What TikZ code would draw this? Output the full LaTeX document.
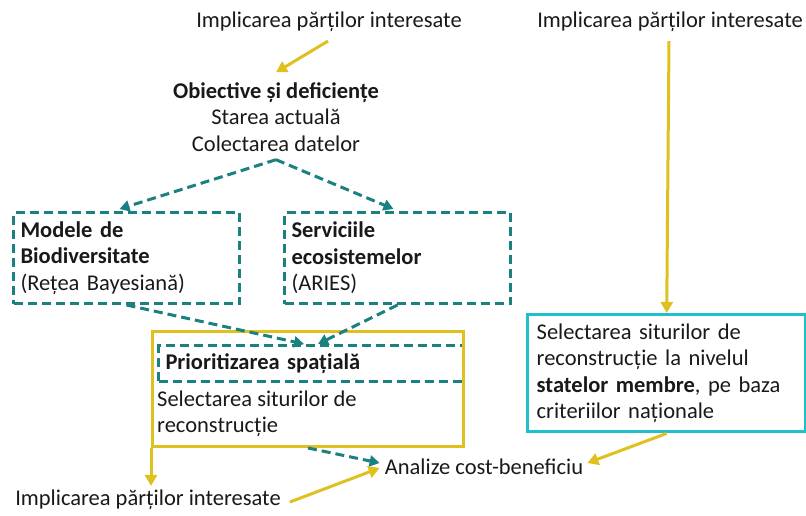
\documentclass[tikz,border=0pt]{standalone}
\usepackage{fontspec}
\setmainfont{Carlito}
\definecolor{rteal}{RGB}{26,128,128}
\definecolor{ryellow}{RGB}{224,192,30}
\definecolor{rcyan}{RGB}{30,192,204}
\definecolor{rtext}{RGB}{25,25,25}
\usetikzlibrary{arrows.meta,positioning}

\begin{document}
\begin{tikzpicture}[x=1pt,y=-1pt,
  txt/.style={font=\fontsize{22.5}{26.5}\selectfont,text=rtext,inner sep=1pt},
  dbox/.style={txt,draw=rteal,line width=3pt,dash pattern=on 9pt off 5pt,anchor=north west,align=left,inner xsep=7pt,inner ysep=0pt},
  ybox/.style={draw=ryellow,line width=3pt,anchor=north west,inner sep=0pt},
  cbox/.style={txt,draw=rcyan,line width=3.4pt,anchor=north west,align=left,inner xsep=9pt,inner ysep=0pt},
  tarr/.style={draw=rteal,line width=3pt,dash pattern=on 9pt off 5pt,-{Triangle[length=10pt,width=11pt]}},
  yarr/.style={draw=ryellow,line width=3pt,-{Triangle[length=11pt,width=12pt]}}]
  \useasboundingbox (0,0) rectangle (806,515);
  \node[txt] (imp1) at (329,22) {Implicarea părților interesate};
  \node[txt] (imp2) at (670,22) {Implicarea părților interesate};
  \node[txt,align=center] (obj) at (276,117) {\textbf{Obiective și deficiențe}\\Starea actuală\\Colectarea datelor};
  \node[dbox,text width=212pt,minimum height=91pt] (mod) at (12,211) {\textbf{Modele de}\\\textbf{Biodiversitate}\\(Rețea Bayesiană)};
  \node[dbox,text width=212pt,minimum height=91pt] (serv) at (283,211) {\textbf{Serviciile}\\\textbf{ecosistemelor}\\(ARIES)};
  \node[dbox,text width=291pt,minimum height=36pt] (prio) at (157,344) {\textbf{Prioritizarea spațială}};
  \node[ybox,minimum width=311pt,minimum height=115pt] (spat) at (151,330) {};
  \node[txt,anchor=west,align=left,inner sep=0pt] (sel) at (157,413.5) {Selectarea siturilor de\\reconstrucție};
  \node[cbox,text width=260pt,minimum height=117pt] (nat) at (526,313) {Selectarea siturilor de\\reconstrucție la nivelul\\\textbf{statelor membre}, pe baza\\criteriilor naționale};
  \node[txt] (cost) at (484,467) {Analize cost-beneficiu};
  \node[txt] (imp3) at (148,500) {Implicarea părților interesate};
  \draw[yarr] ([xshift=-1pt,yshift=-8pt]imp1.south) -- ([yshift=9pt]obj.north);
  \draw[tarr] ([yshift=-7pt]obj.south) -- ([xshift=-7pt,yshift=2pt]mod.north);
  \draw[tarr] ([yshift=-7pt]obj.south) -- ([xshift=-4pt,yshift=2pt]serv.north);
  \draw[tarr] (mod.south) -- ([xshift=-7pt]prio.north);
  \draw[tarr] (serv.south) -- ([xshift=7pt]prio.north);
  \draw[yarr] (spat.south west) -- ([yshift=3pt]spat.south west |- imp3.north);
  \draw[tarr] (spat.south) -- ([xshift=-4pt,yshift=4pt]cost.west);
  \draw[yarr] ([xshift=8pt,yshift=-2pt]imp3.east) -- ([xshift=-4pt,yshift=-1pt]cost.west);
  \draw[yarr] ([xshift=-1pt,yshift=-8pt]imp2.south) -- (nat.north);
  \draw[yarr] (nat.south) -- ([xshift=3pt,yshift=4pt]cost.east);
\end{tikzpicture}
\end{document}
